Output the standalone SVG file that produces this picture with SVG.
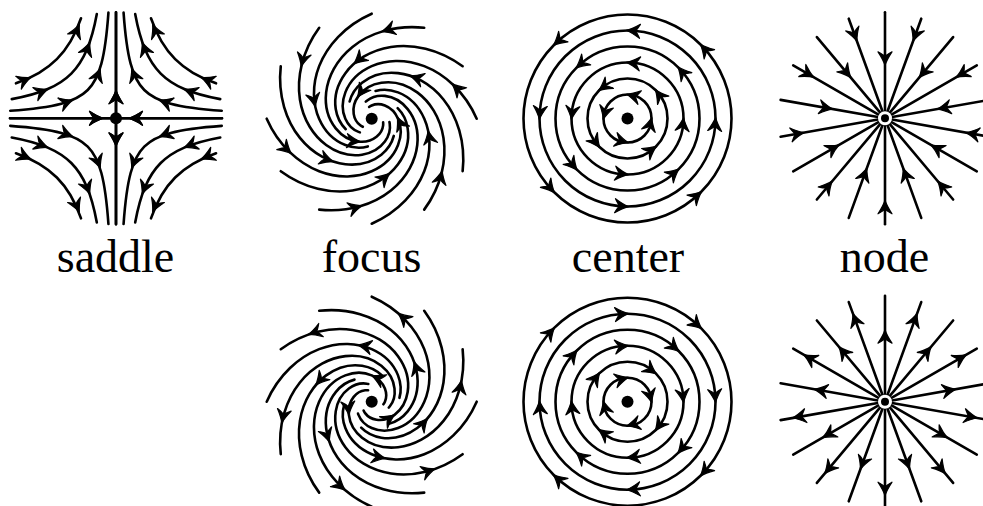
<svg xmlns="http://www.w3.org/2000/svg" width="983" height="506" viewBox="0 0 983 506">
<style>
.ln{fill:none;stroke:#000;stroke-width:2.6;stroke-linecap:round;stroke-linejoin:round}
.dot{fill:#000;stroke:none}
.hdot{fill:#000;stroke:#fff;stroke-width:3}
.e1{stroke-dasharray:0.972 2}
.e2{stroke-dasharray:0.909 2}
.e3{stroke-dasharray:0.805 2}
.lbl{font-family:"Liberation Serif","Times New Roman",serif;font-size:46px;text-anchor:middle;fill:#000;stroke:none}
</style>
<defs>
<path id="ah" fill="#000" stroke-width="1.2" d="M1,0 C-3,-1.3 -8,-4 -12.5,-7 C-10.5,-3.5 -9.5,-1.2 -7.5,0 C-9.5,1.2 -10.5,3.5 -12.5,7 C-8,4 -3,1.3 1,0 Z"/>
<path id="sp" pathLength="1" d="M105,0 C92.90,-27.49 72.36,-44.85 52.55,-52.55 C32.74,-60.25 13.77,-58.66 0,-52.60 C-13.77,-46.54 -22.47,-36.25 -26.33,-26.33 C-30.19,-16.41 -29.38,-6.90 -26.35,0 C-23.32,6.90 -18.16,11.26 -13.19,13.19 C-8.22,15.12 -3.46,14.72 0,13.20 C3.46,11.68 5.63,9.09 6.60,6.60"/>
<g id="sq">
<path d="M-106,0 H0 M0,-106 V0"/>
<path d="M-105.73,-7.57 C-82.49,-9.23 -66.70,-11.41 -54.69,-14.63 C-42.67,-17.84 -34.50,-22.07 -28.28,-28.28 C-22.07,-34.50 -17.84,-42.67 -14.63,-54.69 C-11.41,-66.70 -9.23,-82.49 -7.57,-105.73"/>
<path d="M-104.25,-19.18 C-89.55,-21.89 -77.91,-25.16 -68.28,-29.29 C-58.65,-33.42 -51.03,-38.41 -44.72,-44.72 C-38.41,-51.03 -33.42,-58.65 -29.29,-68.28 C-25.16,-77.91 -21.89,-89.55 -19.18,-104.25"/>
<path d="M-100.06,-34.98 C-91.30,-38.04 -83.68,-41.51 -76.94,-45.49 C-70.20,-49.48 -64.34,-53.98 -59.16,-59.16 C-53.98,-64.34 -49.48,-70.20 -45.49,-76.94 C-41.51,-83.68 -38.04,-91.30 -34.98,-100.06"/>
<use href="#ah" transform="translate(-14,0)"/>
<use href="#ah" transform="translate(0,-27) rotate(-90)"/>
<use href="#ah" transform="translate(-44,-18) rotate(-20.2)"/>
<use href="#ah" transform="translate(-16,-49) rotate(-69.8)"/>
<use href="#ah" transform="translate(-69,-28.7) rotate(-20.95)"/>
<use href="#ah" transform="translate(-26.5,-75) rotate(-69.05)"/>
<use href="#ah" transform="translate(-86,-40.5) rotate(-23.35)"/>
<use href="#ah" transform="translate(-37,-93) rotate(-66.65)"/>
</g>
<g id="fA1"><use href="#sp" class="e1"/><use href="#ah" transform="translate(81,-34.38) rotate(-136.75)"/><use href="#ah" transform="translate(-25.99,0.82) rotate(64.45)"/></g>
<g id="fA2"><use href="#sp" class="e2"/><use href="#ah" transform="translate(81,-34.38) rotate(-136.75)"/></g>
<g id="fB"><use href="#sp" class="e3"/><use href="#ah" transform="translate(12.75,-56.58) rotate(168.95)"/></g>
<g id="gA1"><use href="#sp" class="e1"/><use href="#ah" transform="translate(87.89,-27.2) rotate(49.05)"/><use href="#ah" transform="translate(-25.99,0.82) rotate(-115.55)"/></g>
<g id="gA2"><use href="#sp" class="e2"/><use href="#ah" transform="translate(87.89,-27.2) rotate(49.05)"/></g>
<g id="gB"><use href="#sp" class="e3"/><use href="#ah" transform="translate(12.75,-56.58) rotate(-11.05)"/></g>
</defs>
<rect width="983" height="506" fill="#fff"/>
<g class="ln">
<g id="saddle" transform="translate(116,118.3)">
<use href="#sq"/>
<use href="#sq" transform="scale(-1,1)"/>
<use href="#sq" transform="scale(1,-1)"/>
<use href="#sq" transform="scale(-1,-1)"/>
<circle class="dot" r="6"/>
</g>
<g id="focus-top" transform="translate(371.7,118.7)">
<use href="#fA2"/>
<use href="#fB" transform="rotate(-30)"/>
<use href="#fA1" transform="rotate(-60)"/>
<use href="#fB" transform="rotate(-90)"/>
<use href="#fA2" transform="rotate(-120)"/>
<use href="#fB" transform="rotate(-150)"/>
<use href="#fA1" transform="rotate(-180)"/>
<use href="#fB" transform="rotate(-210)"/>
<use href="#fA2" transform="rotate(-240)"/>
<use href="#fB" transform="rotate(-270)"/>
<use href="#fA1" transform="rotate(-300)"/>
<use href="#fB" transform="rotate(-330)"/>
<circle class="dot" r="6"/>
</g>
<g id="focus-bottom" transform="translate(371.7,401.7)">
<g transform="rotate(-30) scale(-1,1)">
<use href="#gA2"/>
<use href="#gB" transform="rotate(-30)"/>
<use href="#gA1" transform="rotate(-60)"/>
<use href="#gB" transform="rotate(-90)"/>
<use href="#gA2" transform="rotate(-120)"/>
<use href="#gB" transform="rotate(-150)"/>
<use href="#gA1" transform="rotate(-180)"/>
<use href="#gB" transform="rotate(-210)"/>
<use href="#gA2" transform="rotate(-240)"/>
<use href="#gB" transform="rotate(-270)"/>
<use href="#gA1" transform="rotate(-300)"/>
<use href="#gB" transform="rotate(-330)"/>
</g>
<circle class="dot" r="6"/>
</g>
<g id="center-top" transform="translate(627.5,118.5)">
<circle r="24"/><circle r="40"/><circle r="56"/><circle r="72"/><circle r="88"/><circle r="104"/>
<use href="#ah" transform="rotate(-45) translate(104,0) rotate(-86.7)"/>
<use href="#ah" transform="rotate(-135) translate(104,0) rotate(-86.7)"/>
<use href="#ah" transform="rotate(-225) translate(104,0) rotate(-86.7)"/>
<use href="#ah" transform="rotate(-315) translate(104,0) rotate(-86.7)"/>
<use href="#ah" transform="rotate(0) translate(88,0) rotate(-86.1)"/>
<use href="#ah" transform="rotate(-90) translate(88,0) rotate(-86.1)"/>
<use href="#ah" transform="rotate(-180) translate(88,0) rotate(-86.1)"/>
<use href="#ah" transform="rotate(-270) translate(88,0) rotate(-86.1)"/>
<use href="#ah" transform="rotate(-45) translate(72,0) rotate(-85.2)"/>
<use href="#ah" transform="rotate(-135) translate(72,0) rotate(-85.2)"/>
<use href="#ah" transform="rotate(-225) translate(72,0) rotate(-85.2)"/>
<use href="#ah" transform="rotate(-315) translate(72,0) rotate(-85.2)"/>
<use href="#ah" transform="rotate(0) translate(56,0) rotate(-83.9)"/>
<use href="#ah" transform="rotate(-90) translate(56,0) rotate(-83.9)"/>
<use href="#ah" transform="rotate(-180) translate(56,0) rotate(-83.9)"/>
<use href="#ah" transform="rotate(-270) translate(56,0) rotate(-83.9)"/>
<use href="#ah" transform="rotate(-45) translate(40,0) rotate(-81.4)"/>
<use href="#ah" transform="rotate(-135) translate(40,0) rotate(-81.4)"/>
<use href="#ah" transform="rotate(-225) translate(40,0) rotate(-81.4)"/>
<use href="#ah" transform="rotate(-315) translate(40,0) rotate(-81.4)"/>
<use href="#ah" transform="rotate(0) translate(24,0) rotate(-75.7)"/>
<use href="#ah" transform="rotate(-90) translate(24,0) rotate(-75.7)"/>
<use href="#ah" transform="rotate(-180) translate(24,0) rotate(-75.7)"/>
<use href="#ah" transform="rotate(-270) translate(24,0) rotate(-75.7)"/>
<circle class="dot" r="6"/>
</g>
<g id="center-bottom" transform="translate(627.5,401.7)">
<circle r="24"/><circle r="40"/><circle r="56"/><circle r="72"/><circle r="88"/><circle r="104"/>
<use href="#ah" transform="rotate(-45) translate(104,0) rotate(86.7)"/>
<use href="#ah" transform="rotate(-135) translate(104,0) rotate(86.7)"/>
<use href="#ah" transform="rotate(-225) translate(104,0) rotate(86.7)"/>
<use href="#ah" transform="rotate(-315) translate(104,0) rotate(86.7)"/>
<use href="#ah" transform="rotate(0) translate(88,0) rotate(86.1)"/>
<use href="#ah" transform="rotate(-90) translate(88,0) rotate(86.1)"/>
<use href="#ah" transform="rotate(-180) translate(88,0) rotate(86.1)"/>
<use href="#ah" transform="rotate(-270) translate(88,0) rotate(86.1)"/>
<use href="#ah" transform="rotate(-45) translate(72,0) rotate(85.2)"/>
<use href="#ah" transform="rotate(-135) translate(72,0) rotate(85.2)"/>
<use href="#ah" transform="rotate(-225) translate(72,0) rotate(85.2)"/>
<use href="#ah" transform="rotate(-315) translate(72,0) rotate(85.2)"/>
<use href="#ah" transform="rotate(0) translate(56,0) rotate(83.9)"/>
<use href="#ah" transform="rotate(-90) translate(56,0) rotate(83.9)"/>
<use href="#ah" transform="rotate(-180) translate(56,0) rotate(83.9)"/>
<use href="#ah" transform="rotate(-270) translate(56,0) rotate(83.9)"/>
<use href="#ah" transform="rotate(-45) translate(40,0) rotate(81.4)"/>
<use href="#ah" transform="rotate(-135) translate(40,0) rotate(81.4)"/>
<use href="#ah" transform="rotate(-225) translate(40,0) rotate(81.4)"/>
<use href="#ah" transform="rotate(-315) translate(40,0) rotate(81.4)"/>
<use href="#ah" transform="rotate(0) translate(24,0) rotate(75.7)"/>
<use href="#ah" transform="rotate(-90) translate(24,0) rotate(75.7)"/>
<use href="#ah" transform="rotate(-180) translate(24,0) rotate(75.7)"/>
<use href="#ah" transform="rotate(-270) translate(24,0) rotate(75.7)"/>
<circle class="dot" r="6"/>
</g>
<g id="node-top" transform="translate(885,118.3)">
<g transform="rotate(-90)"><line x2="106"/><use href="#ah" transform="translate(54,0) rotate(180)"/></g>
<g transform="rotate(-110)"><line x2="106"/><use href="#ah" transform="translate(83,0) rotate(180)"/></g>
<g transform="rotate(-130)"><line x2="106"/><use href="#ah" transform="translate(54,0) rotate(180)"/></g>
<g transform="rotate(-150)"><line x2="106"/><use href="#ah" transform="translate(83,0) rotate(180)"/></g>
<g transform="rotate(-170)"><line x2="106"/><use href="#ah" transform="translate(54,0) rotate(180)"/></g>
<g transform="rotate(-190)"><line x2="106"/><use href="#ah" transform="translate(83,0) rotate(180)"/></g>
<g transform="rotate(-210)"><line x2="106"/><use href="#ah" transform="translate(54,0) rotate(180)"/></g>
<g transform="rotate(-230)"><line x2="106"/><use href="#ah" transform="translate(83,0) rotate(180)"/></g>
<g transform="rotate(-250)"><line x2="106"/><use href="#ah" transform="translate(54,0) rotate(180)"/></g>
<g transform="rotate(-270)"><line x2="106"/><use href="#ah" transform="translate(83,0) rotate(180)"/></g>
<g transform="rotate(-290)"><line x2="106"/><use href="#ah" transform="translate(54,0) rotate(180)"/></g>
<g transform="rotate(-310)"><line x2="106"/><use href="#ah" transform="translate(83,0) rotate(180)"/></g>
<g transform="rotate(-330)"><line x2="106"/><use href="#ah" transform="translate(54,0) rotate(180)"/></g>
<g transform="rotate(-350)"><line x2="106"/><use href="#ah" transform="translate(83,0) rotate(180)"/></g>
<g transform="rotate(-10)"><line x2="106"/><use href="#ah" transform="translate(54,0) rotate(180)"/></g>
<g transform="rotate(-30)"><line x2="106"/><use href="#ah" transform="translate(83,0) rotate(180)"/></g>
<g transform="rotate(-50)"><line x2="106"/><use href="#ah" transform="translate(54,0) rotate(180)"/></g>
<g transform="rotate(-70)"><line x2="106"/><use href="#ah" transform="translate(83,0) rotate(180)"/></g>
<circle class="hdot" r="5.5"/>
</g>
<g id="node-bottom" transform="translate(885,401.7)">
<g transform="rotate(-90)"><line x2="106"/><use href="#ah" transform="translate(71,0)"/></g>
<g transform="rotate(-110)"><line x2="106"/><use href="#ah" transform="translate(93,0)"/></g>
<g transform="rotate(-130)"><line x2="106"/><use href="#ah" transform="translate(71,0)"/></g>
<g transform="rotate(-150)"><line x2="106"/><use href="#ah" transform="translate(93,0)"/></g>
<g transform="rotate(-170)"><line x2="106"/><use href="#ah" transform="translate(71,0)"/></g>
<g transform="rotate(-190)"><line x2="106"/><use href="#ah" transform="translate(93,0)"/></g>
<g transform="rotate(-210)"><line x2="106"/><use href="#ah" transform="translate(71,0)"/></g>
<g transform="rotate(-230)"><line x2="106"/><use href="#ah" transform="translate(93,0)"/></g>
<g transform="rotate(-250)"><line x2="106"/><use href="#ah" transform="translate(71,0)"/></g>
<g transform="rotate(-270)"><line x2="106"/><use href="#ah" transform="translate(93,0)"/></g>
<g transform="rotate(-290)"><line x2="106"/><use href="#ah" transform="translate(71,0)"/></g>
<g transform="rotate(-310)"><line x2="106"/><use href="#ah" transform="translate(93,0)"/></g>
<g transform="rotate(-330)"><line x2="106"/><use href="#ah" transform="translate(71,0)"/></g>
<g transform="rotate(-350)"><line x2="106"/><use href="#ah" transform="translate(93,0)"/></g>
<g transform="rotate(-10)"><line x2="106"/><use href="#ah" transform="translate(71,0)"/></g>
<g transform="rotate(-30)"><line x2="106"/><use href="#ah" transform="translate(93,0)"/></g>
<g transform="rotate(-50)"><line x2="106"/><use href="#ah" transform="translate(71,0)"/></g>
<g transform="rotate(-70)"><line x2="106"/><use href="#ah" transform="translate(93,0)"/></g>
<circle class="hdot" r="5.5"/>
</g>
</g>
<g id="labels">
<text class="lbl" x="115.5" y="272">saddle</text>
<text class="lbl" x="371.5" y="272">focus</text>
<text class="lbl" x="628" y="272">center</text>
<text class="lbl" x="884.5" y="272">node</text>
</g>
</svg>
